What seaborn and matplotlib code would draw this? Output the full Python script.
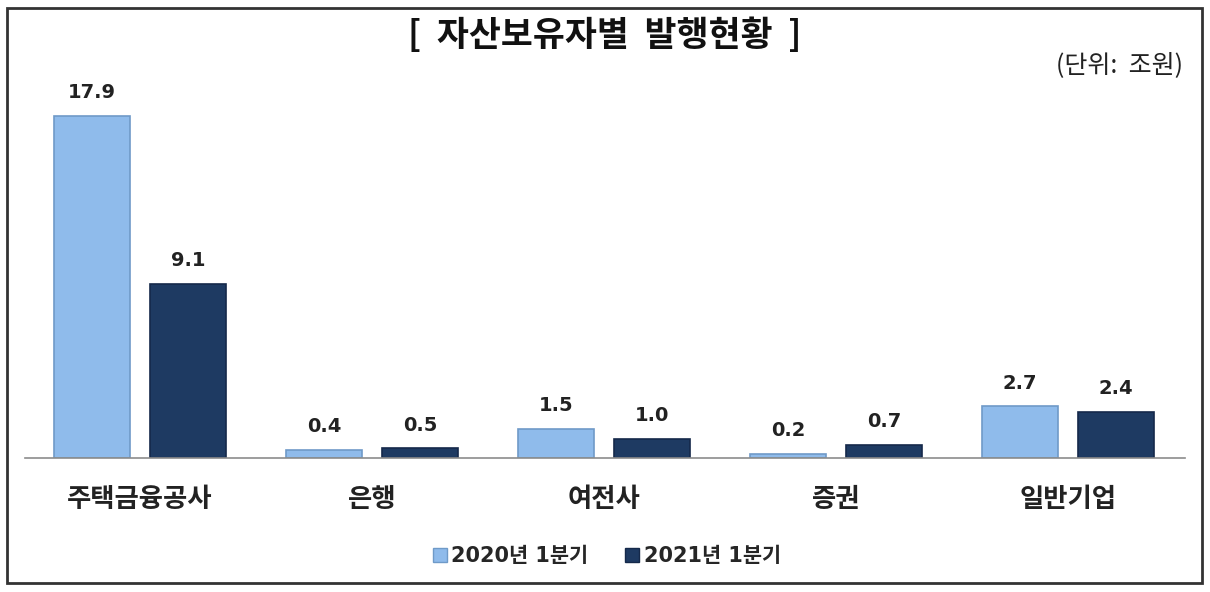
import matplotlib
matplotlib.use("Agg")
import matplotlib.pyplot as plt
import seaborn as sns
import pandas as pd
from matplotlib.patches import Rectangle
from matplotlib.lines import Line2D


categories = ["주택금융공사", "은행", "여전사", "증권", "일반기업"]
series_names = ["2020년 1분기", "2021년 1분기"]
values_2020 = [17.9, 0.4, 1.5, 0.2, 2.7]
values_2021 = [9.1, 0.5, 1.0, 0.7, 2.4]
colors = ["#8FBBEB", "#1E3A62"]
edge_colors = ["#6F9AC8", "#15294A"]

df = pd.DataFrame({
    "기관": categories * 2,
    "구분": [series_names[0]] * 5 + [series_names[1]] * 5,
    "금액": values_2020 + values_2021,
})

sns.set_style("white")
plt.rcParams["font.family"] = ["Noto Sans CJK KR", "DejaVu Sans"]

fig = plt.figure(figsize=(12.1, 5.92), dpi=100)
ax = fig.add_axes([25 / 1210, 1 - 458 / 592, 1160 / 1210, 385 / 592])

sns.barplot(
    data=df, x="기관", y="금액", hue="구분",
    palette=colors, width=0.828, gap=0.21,
    ax=ax, legend=False, saturation=1,
)

# 막대 테두리, 값 라벨
for cont, ec in zip(ax.containers, edge_colors):
    for bar in cont:
        bar.set_edgecolor(ec)
        bar.set_linewidth(1.2)
    ax.bar_label(cont, fmt="%.1f", padding=10, fontsize=14,
                 fontweight="bold", color="#222222", family="DejaVu Sans")

ax.set_ylim(0, 20.15)
ax.set_xlim(-0.496, 4.504)
ax.set_xlabel("")
ax.set_ylabel("")
ax.set_yticks([])
ax.tick_params(axis="x", length=0, pad=20, labelsize=19)
for lbl in ax.get_xticklabels():
    lbl.set_color("#222222")
    lbl.set_fontweight("bold")
for s in ["top", "right", "left"]:
    ax.spines[s].set_visible(False)
ax.spines["bottom"].set_color("#8C8C8C")
ax.spines["bottom"].set_linewidth(1.2)

# 제목, 단위
fig.text(0.5, 1 - 35 / 592, "[  자산보유자별  발행현황  ]", ha="center", va="center",
         fontsize=25, fontweight="bold", color="#111111")
fig.text(1183 / 1210, 1 - 65 / 592, "(단위:  조원)", ha="right", va="center",
         fontsize=18, color="#222222")

# 범례
handles = [
    Line2D([0], [0], marker="s", linestyle="", markersize=10,
           markerfacecolor=c, markeredgecolor=ec)
    for c, ec in zip(colors, edge_colors)
]
fig.legend(handles, series_names, loc="center", bbox_to_anchor=(0.5, 1 - 556 / 592),
           ncol=2, frameon=False, handletextpad=0.05, handlelength=1.0,
           columnspacing=1.6,
           prop={"weight": "bold", "size": 15,
                 "family": ["DejaVu Sans", "Noto Sans CJK KR"]})

# 바깥 테두리
fig.patches.append(Rectangle((7 / 1210, 1 - 583 / 592), 1195 / 1210, 575 / 592,
                             transform=fig.transFigure, fill=False,
                             edgecolor="#333333", linewidth=2))

fig.savefig("out.png", dpi=100)
